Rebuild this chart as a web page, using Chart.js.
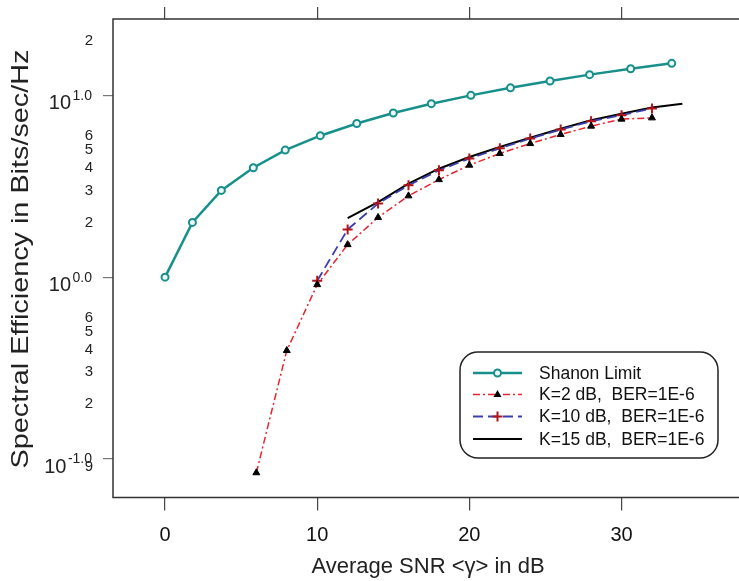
<!DOCTYPE html>
<html>
<head>
<meta charset="utf-8">
<script src="https://cdn.jsdelivr.net/npm/chart.js@4/dist/chart.umd.min.js"></script>
<style>
  html, body { margin: 0; padding: 0; background: #fff; }
  #chart { display: block; }
</style>
</head>
<body>
<canvas id="chart" width="739" height="581"></canvas>
<script>
// values
const shannonSnr = [0, 1.8, 3.7, 5.8, 7.9, 10.2, 12.6, 15.0, 17.5, 20.1, 22.7, 25.3, 27.9, 30.6, 33.3];
const shannonEff = [1, 2, 3, 4, 5, 6, 7, 8, 9, 10, 11, 12, 13, 14, 15];

const k2Snr = [6, 8, 10, 12, 14, 16, 18, 20, 22, 24, 26, 28, 30, 32];
const k2Eff = [0.084, 0.395, 0.91, 1.51, 2.13, 2.8, 3.44, 4.13, 4.79, 5.43, 6.09, 6.77, 7.4, 7.52];

const k10Snr = [10, 12, 14, 16, 18, 20, 22, 24, 26, 28, 30, 32];
const k10Eff = [0.955, 1.83, 2.54, 3.2, 3.87, 4.49, 5.11, 5.79, 6.48, 7.21, 7.78, 8.47];

const k15Snr = [12, 14, 16, 18, 20, 22, 24, 26, 28, 30, 32, 34];
const k15Eff = [2.11, 2.59, 3.27, 3.95, 4.58, 5.2, 5.85, 6.55, 7.3, 7.93, 8.58, 9.0];

const seriesNames = ["Shanon Limit", "K=2 dB,  BER=1E-6", "K=10 dB,  BER=1E-6", "K=15 dB,  BER=1E-6"];

const snrTicks = [0, 10, 20, 30];
const effMajorTicks = [0.1, 1, 10];
const effMajorExp = ["-1.0", "0.0", "1.0"];
const effMinorTicks = [0.09, 0.2, 0.3, 0.4, 0.5, 0.6, 2, 3, 4, 5, 6, 20];
const effMinorLabels = ["9", "2", "3", "4", "5", "6", "2", "3", "4", "5", "6", "2"];

const xTitle = "Average SNR <\u03b3> in dB";
const yTitle = "Spectral Efficiency in Bits/sec/Hz";

const FONT = "'Liberation Sans', Arial, sans-serif";
const teal = "#17908b";
const red = "#e8242c";
const blue = "#3b3fae";
const darkRed = "#b3141c";

const toPoints = (xs, ys) => xs.map((x, i) => ({ x: x, y: ys[i] }));

function drawSample(ctx, i, x0, x1, y) {
  const xm = (x0 + x1) / 2;
  ctx.save();
  ctx.beginPath();
  ctx.moveTo(x0, y);
  ctx.lineTo(x1, y);
  if (i === 0) { ctx.strokeStyle = teal; ctx.lineWidth = 2.5; }
  if (i === 1) { ctx.strokeStyle = red; ctx.lineWidth = 1.5; ctx.setLineDash([7, 3, 2, 3]); }
  if (i === 2) { ctx.strokeStyle = blue; ctx.lineWidth = 1.8; ctx.setLineDash([10, 5]); }
  if (i === 3) { ctx.strokeStyle = "#000"; ctx.lineWidth = 2; }
  ctx.stroke();
  ctx.setLineDash([]);
  if (i === 0) {
    ctx.beginPath();
    ctx.arc(xm, y, 3.5, 0, Math.PI * 2);
    ctx.fillStyle = "#eef7f6";
    ctx.fill();
    ctx.lineWidth = 2;
    ctx.stroke();
  }
  if (i === 1) {
    ctx.beginPath();
    ctx.moveTo(xm, y - 4.5);
    ctx.lineTo(xm + 4, y + 2.5);
    ctx.lineTo(xm - 4, y + 2.5);
    ctx.closePath();
    ctx.fillStyle = "#000";
    ctx.fill();
  }
  if (i === 2) {
    ctx.beginPath();
    ctx.moveTo(xm - 5, y);
    ctx.lineTo(xm + 5, y);
    ctx.moveTo(xm, y - 5);
    ctx.lineTo(xm, y + 5);
    ctx.strokeStyle = darkRed;
    ctx.lineWidth = 2;
    ctx.stroke();
  }
  ctx.restore();
}

const framePlugin = {
  id: "frame",
  afterDraw(chart) {
    const ctx = chart.ctx;
    const a = chart.chartArea;
    const yScale = chart.scales.y;

    ctx.save();
    // box: left, top and bottom (right side runs off the picture)
    ctx.strokeStyle = "#333";
    ctx.lineWidth = 1.5;
    ctx.beginPath();
    ctx.moveTo(chart.width, a.top);
    ctx.lineTo(a.left, a.top);
    ctx.lineTo(a.left, a.bottom);
    ctx.lineTo(chart.width, a.bottom);
    ctx.stroke();

    // 10^n labels
    ctx.fillStyle = "#222";
    ctx.textAlign = "left";
    ctx.textBaseline = "alphabetic";
    effMajorTicks.forEach((v, i) => {
      const py = yScale.getPixelForValue(v);
      ctx.font = "14px " + FONT;
      const wExp = ctx.measureText(effMajorExp[i]).width;
      const xExp = 92 - wExp;
      ctx.fillText(effMajorExp[i], xExp, py + 4.5);
      ctx.font = "20px " + FONT;
      const wBase = ctx.measureText("10").width;
      ctx.fillText("10", xExp - 1.5 - wBase, py + 14);
    });

    // axis titles
    ctx.fillStyle = "#222";
    ctx.font = "22px " + FONT;
    ctx.textAlign = "center";
    ctx.textBaseline = "middle";
    ctx.fillText(xTitle, 428, 567);
    ctx.save();
    ctx.translate(21, 259);
    ctx.rotate(-Math.PI / 2);
    ctx.scale(1.2, 1);
    ctx.font = "24px " + FONT;
    ctx.fillText(yTitle, 0, 0);
    ctx.restore();

    // legend
    const lx = 460, ly = 352, lw = 258, lh = 106, r = 18;
    ctx.beginPath();
    ctx.roundRect(lx, ly, lw, lh, r);
    ctx.fillStyle = "#fff";
    ctx.fill();
    ctx.strokeStyle = "#222";
    ctx.lineWidth = 1.5;
    ctx.stroke();
    const rows = [373, 394.5, 416.5, 439];
    ctx.font = "17.5px " + FONT;
    ctx.textAlign = "left";
    ctx.textBaseline = "middle";
    seriesNames.forEach((name, i) => {
      drawSample(ctx, i, 473, 522, rows[i]);
      ctx.fillStyle = "#111";
      ctx.fillText(name, 539, rows[i] + 1);
    });
    ctx.restore();
  }
};

const ctx = document.getElementById("chart").getContext("2d");
const chart = new Chart(ctx, {
  type: "line",
  data: {
    datasets: [
      {
        label: seriesNames[0],
        data: toPoints(shannonSnr, shannonEff),
        borderColor: teal,
        borderWidth: 2.5,
        pointStyle: "circle",
        pointRadius: 3.5,
        pointBorderWidth: 2,
        pointBorderColor: teal,
        pointBackgroundColor: "#eef7f6",
      },
      {
        label: seriesNames[1],
        data: toPoints(k2Snr, k2Eff),
        borderColor: red,
        borderWidth: 1.5,
        borderDash: [7, 3, 2, 3],
        pointStyle: "triangle",
        pointRadius: 4,
        pointBorderWidth: 1,
        pointBorderColor: "#000",
        pointBackgroundColor: "#000",
      },
      {
        label: seriesNames[2],
        data: toPoints(k10Snr, k10Eff),
        borderColor: blue,
        borderWidth: 1.8,
        borderDash: [10, 5],
        pointStyle: "cross",
        pointRadius: 5,
        pointBorderWidth: 2,
        pointBorderColor: darkRed,
      },
      {
        label: seriesNames[3],
        data: toPoints(k15Snr, k15Eff),
        borderColor: "#000",
        borderWidth: 2,
        pointRadius: 0,
      },
    ],
  },
  options: {
    responsive: false,
    animation: false,
    layout: { padding: 0 },
    plugins: {
      legend: { display: false },
      tooltip: { enabled: false },
    },
    scales: {
      x: {
        type: "linear",
        position: "bottom",
        min: -3.42,
        max: 37.26,
        afterBuildTicks: (s) => { s.ticks = snrTicks.map((v) => ({ value: v })); },
        afterFit: (s) => { s.height = 83.5; },
        border: { display: false },
        grid: { drawOnChartArea: false, tickLength: 13, color: "#444", lineWidth: 1.2 },
        ticks: { autoSkip: false, maxRotation: 0, padding: 13, color: "#111", font: { family: FONT, size: 20 } },
      },
      xTop: {
        type: "linear",
        position: "top",
        min: -3.42,
        max: 37.26,
        afterBuildTicks: (s) => { s.ticks = snrTicks.map((v) => ({ value: v })); },
        afterFit: (s) => { s.height = 19; },
        border: { display: false },
        grid: { drawOnChartArea: false, tickLength: 12, color: "#444", lineWidth: 1.2 },
        ticks: { display: false },
      },
      y: {
        type: "logarithmic",
        min: 0.0614,
        max: 26.3,
        afterBuildTicks: (s) => {
          s.ticks = effMajorTicks.concat(effMinorTicks).map((v) => ({ value: v }));
        },
        afterFit: (s) => { s.width = 113; },
        border: { display: false },
        grid: {
          drawOnChartArea: false,
          tickLength: 10,
          lineWidth: 1.2,
          color: (c) => (c.tick && effMajorTicks.includes(c.tick.value) ? "#777" : "rgba(0,0,0,0)"),
        },
        ticks: {
          autoSkip: false,
          padding: 10,
          color: "#222",
          font: { family: FONT, size: 15 },
          callback: (v) => {
            const i = effMinorTicks.indexOf(v);
            return i >= 0 ? effMinorLabels[i] : "";
          },
        },
      },
    },
  },
  plugins: [framePlugin],
});
</script>
</body>
</html>
